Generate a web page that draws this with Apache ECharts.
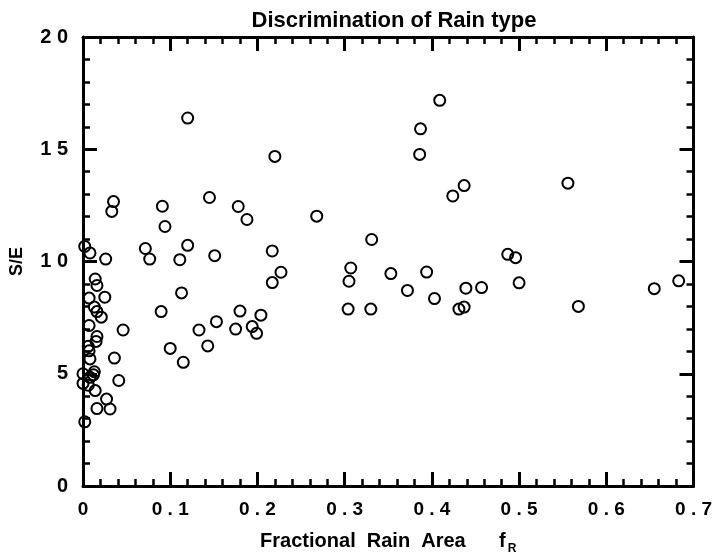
<!DOCTYPE html>
<html>
<head>
<meta charset="utf-8">
<script src="https://cdn.jsdelivr.net/npm/echarts@6/dist/echarts.min.js"></script>
<style>html,body{margin:0;padding:0;background:#fff}#c{width:715px;height:560px}</style>
</head>
<body>
<div id="c"></div>
<script>
var title = 'Discrimination of Rain type';
var xName = 'Fractional  Rain  Area';
var yName = 'S/E';
var xTicks = [0, 0.1, 0.2, 0.3, 0.4, 0.5, 0.6, 0.7];
var yTicks = [0, 5, 10, 15, 20];
var fracRain = [
  0.002, 0.008, 0.026, 0.014, 0.016, 0.025, 0.007, 0.013, 0.016, 0.021,
  0.007, 0.046, 0.016, 0.015, 0.006, 0.007, 0.008, 0.036, 0.013, 0.000,
  0.008, 0.000, 0.006, 0.041, 0.014, 0.027, 0.016, 0.031, 0.002, 0.012,
  0.033, 0.035,
  0.409, 0.387, 0.386, 0.437, 0.424, 0.268, 0.331,
  0.120, 0.220, 0.145, 0.091, 0.178, 0.188, 0.094,
  0.0715, 0.120, 0.0765, 0.111, 0.151, 0.217, 0.227, 0.217, 0.113, 0.0896,
  0.180, 0.204, 0.153, 0.133, 0.175, 0.194, 0.199, 0.100, 0.143, 0.115,
  0.307, 0.305, 0.353, 0.394, 0.372, 0.403, 0.439, 0.457, 0.304, 0.330,
  0.431, 0.437, 0.487, 0.496, 0.500,
  0.556, 0.568, 0.655, 0.683
];
var sOverE = [
  10.67, 10.38, 10.11, 9.22, 8.93, 8.41, 8.37, 7.97, 7.77, 7.52,
  7.15, 6.95, 6.66, 6.44, 6.22, 6.02, 5.66, 5.70, 5.09, 5.00,
  4.84, 4.57, 4.49, 4.70, 4.25, 3.87, 3.45, 3.43, 2.86, 4.95,
  12.23, 12.67,
  17.18, 15.91, 14.77, 13.38, 12.92, 12.02, 10.98,
  16.39, 14.68, 12.85, 12.46, 12.45, 11.87, 11.56,
  10.58, 10.72, 10.11, 10.08, 10.26, 10.47, 9.52, 9.06, 8.60, 7.77,
  7.79, 7.61, 7.32, 6.95, 6.99, 7.10, 6.80, 6.13, 6.24, 5.51,
  9.71, 9.12, 9.46, 9.53, 8.71, 8.35, 8.81, 8.84, 7.88, 7.88,
  7.88, 7.97, 10.32, 10.17, 9.05,
  13.49, 8.00, 8.79, 9.14
];
var points = fracRain.map(function (x, i) { return [x, sOverE[i]]; });

var FONT = '"Liberation Sans", Arial, Helvetica, sans-serif';
function spaced(s) { return s.split('').join(' '); }

var chart = echarts.init(document.getElementById('c'), null, {renderer: 'canvas'});
var lineStyle = {color: '#000', width: 3};
var majorTick = {show: true, inside: true, length: 14, lineStyle: {color: '#000', width: 3}};
var minorTick = {show: true, splitNumber: 5, length: 7, lineStyle: {color: '#000', width: 2.5}};
var xMin = xTicks[0], xMax = xTicks[xTicks.length - 1];
var yMin = yTicks[0], yMax = yTicks[yTicks.length - 1];

chart.setOption({
  animation: false,
  backgroundColor: '#fff',
  title: {
    text: title, left: 389, top: 5, textAlign: 'center',
    textStyle: {fontFamily: FONT, fontWeight: 'bold', fontSize: 22, color: '#000'}
  },
  grid: {left: 83, right: 21, top: 37, bottom: 72, containLabel: false},
  xAxis: [{
    type: 'value', min: xMin, max: xMax, interval: 0.1, position: 'bottom',
    axisLine: {show: true, onZero: false, lineStyle: lineStyle},
    axisTick: majorTick, minorTick: minorTick, splitLine: {show: false},
    axisLabel: {
      margin: 14, color: '#000', fontFamily: FONT, fontWeight: 'bold', fontSize: 19,
      formatter: function (v) { return v === 0 ? '0' : spaced(v.toFixed(1)); }
    },
    name: '{a|' + xName + '      f}{s|R}', nameLocation: 'middle', nameGap: 42,
    nameTextStyle: {
      rich: {
        a: {fontFamily: FONT, fontWeight: 'bold', fontSize: 20, color: '#000'},
        s: {fontFamily: FONT, fontWeight: 'bold', fontSize: 12, color: '#000', padding: [15, 0, 0, 2]}
      }
    }
  }, {
    type: 'value', min: xMin, max: xMax, interval: 0.1, position: 'top',
    axisLine: {show: true, onZero: false, lineStyle: lineStyle},
    axisTick: majorTick, minorTick: minorTick, splitLine: {show: false},
    axisLabel: {show: false}
  }],
  yAxis: [{
    type: 'value', min: yMin, max: yMax, interval: 5, position: 'left',
    axisLine: {show: true, onZero: false, lineStyle: lineStyle},
    axisTick: majorTick, minorTick: minorTick, splitLine: {show: false},
    axisLabel: {
      margin: 15, color: '#000', fontFamily: FONT, fontWeight: 'bold', fontSize: 20,
      formatter: function (v) { return spaced(String(v)); }
    },
    name: yName, nameLocation: 'middle', nameGap: 57, nameRotate: 90,
    nameTextStyle: {fontFamily: FONT, fontWeight: 'bold', fontSize: 18, color: '#000'}
  }, {
    type: 'value', min: yMin, max: yMax, interval: 5, position: 'right',
    axisLine: {show: true, onZero: false, lineStyle: lineStyle},
    axisTick: majorTick, minorTick: minorTick, splitLine: {show: false},
    axisLabel: {show: false}
  }],
  series: [{
    type: 'scatter', xAxisIndex: 0, yAxisIndex: 0,
    data: points, symbol: 'circle', symbolSize: 11,
    itemStyle: {color: 'rgba(0,0,0,0)', borderColor: '#000', borderWidth: 2, opacity: 1}
  }]
});
</script>
</body>
</html>
